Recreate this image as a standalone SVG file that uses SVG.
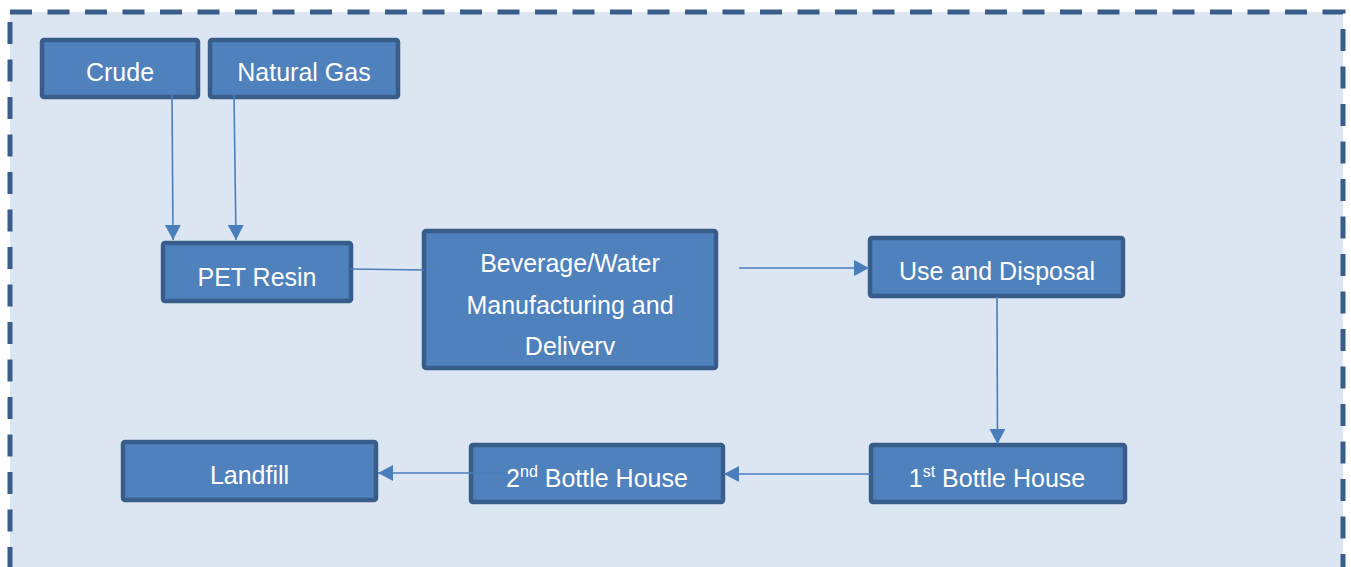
<svg xmlns="http://www.w3.org/2000/svg" width="1351" height="567" viewBox="0 0 1351 567">
<defs>
<style>
.node rect{fill:#4f81bd;stroke:#385d8a;stroke-width:4.5}
.node text{font-family:"Liberation Sans",Arial,sans-serif;font-size:25px;fill:#ffffff;text-anchor:middle}
.conn{stroke:#4a7ebb;stroke-width:1.6;fill:none}
.arr{marker-end:url(#ah)}
</style>
<marker id="ah" markerUnits="userSpaceOnUse" markerWidth="16" markerHeight="16" refX="15" refY="8" orient="auto">
<path d="M0,0 L15,8 L0,16 z" fill="#4a7ebb"/>
</marker>
</defs>
<rect x="0" y="0" width="1351" height="567" fill="#ffffff"/>
<rect id="frame" x="10" y="12" width="1333" height="558" fill="#dce6f2" stroke="#385d8a" stroke-width="5" stroke-dasharray="22 15.5"/>
<g id="crude" class="node"><rect x="42" y="40" width="156" height="57" rx="2"/><text x="120" y="81">Crude</text></g>
<g id="natural-gas" class="node"><rect x="210" y="40" width="188" height="57" rx="2"/><text x="304" y="81">Natural Gas</text></g>
<g id="pet-resin" class="node"><rect x="163" y="243" width="188" height="58" rx="2"/><text x="257" y="286">PET Resin</text></g>
<g id="beverage" class="node"><rect x="424" y="231" width="292" height="137" rx="2"/><text x="570" y="272">Beverage/Water</text><text x="570" y="314">Manufacturing and</text><text x="570" y="355">Deliverv</text></g>
<g id="use-disposal" class="node"><rect x="870" y="238" width="253" height="58" rx="2"/><text x="997" y="280">Use and Disposal</text></g>
<g id="bottle1" class="node"><rect x="871" y="445" width="254" height="57" rx="2"/><text x="997" y="487">1<tspan font-size="16" dy="-10">st</tspan><tspan dy="10"> Bottle House</tspan></text></g>
<g id="bottle2" class="node"><rect x="471" y="445" width="252" height="57" rx="2"/><text x="597" y="487">2<tspan font-size="16" dy="-10">nd</tspan><tspan dy="10"> Bottle House</tspan></text></g>
<g id="landfill" class="node"><rect x="123" y="442" width="253" height="58" rx="2"/><text x="249.5" y="484">Landfill</text></g>
<g id="connectors">
<path class="conn arr" d="M172,95 L173,240"/>
<path class="conn arr" d="M234,95 L236,240"/>
<path class="conn" d="M351,269 L424,270"/>
<path class="conn arr" d="M739,268 L869,268"/>
<path class="conn arr" d="M997,297 L997.5,444"/>
<path class="conn arr" d="M871,474 L724,474"/>
<path class="conn arr" d="M508,473 L378,473"/>
</g>
</svg>
